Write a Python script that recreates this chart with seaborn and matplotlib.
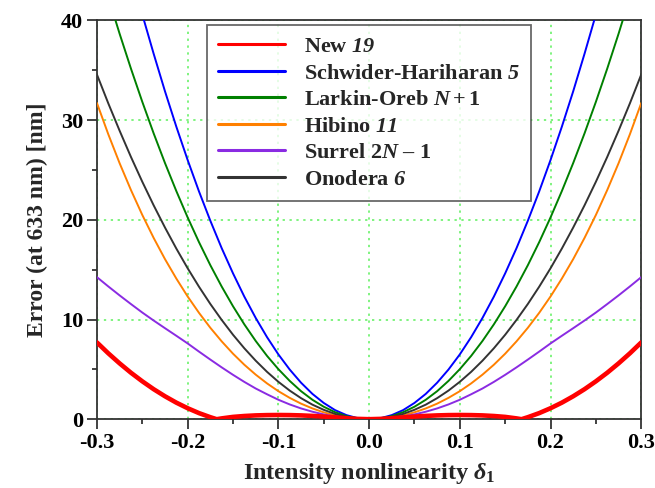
import matplotlib
matplotlib.use('Agg')

import numpy as np
import pandas as pd
import matplotlib.pyplot as plt
import seaborn as sns

# values, right half only (curves are symmetric about 0)
x_half = [0.0, 0.0125, 0.025, 0.0375, 0.05, 0.0625, 0.075, 0.0875, 0.1, 0.1125, 0.125, 0.1375,
          0.15, 0.1625, 0.175, 0.1875, 0.2, 0.2125, 0.225, 0.2375, 0.25, 0.2625, 0.275, 0.2875, 0.3]
schwider = [0.0, 0.10, 0.41, 0.91, 1.63, 2.54, 3.66, 4.98, 6.5, 8.23, 10.16, 12.29,
            14.63, 17.16, 19.91, 22.85, 26.0, 29.35, 32.9, 36.67, 40.6, 44.8, 49.2, 53.7, 58.5]
larkin = [0.0, 0.08, 0.31, 0.70, 1.25, 1.95, 2.81, 3.84, 5.02, 6.35, 7.85, 9.51,
          11.33, 13.31, 15.45, 17.76, 20.24, 22.89, 25.7, 28.68, 31.84, 35.17, 38.67, 42.35, 46.2]
hibino = [0.0, 0.04, 0.17, 0.38, 0.69, 1.08, 1.56, 2.14, 2.81, 3.59, 4.47, 5.46,
          6.57, 7.81, 9.17, 10.67, 12.31, 14.11, 16.06, 18.19, 20.49, 22.99, 25.68, 28.59, 31.72]
surrel = [0.0, 0.03, 0.12, 0.27, 0.48, 0.75, 1.08, 1.48, 1.95, 2.5, 3.08, 3.74,
          4.45, 5.2, 5.98, 6.78, 7.6, 8.37, 9.13, 9.9, 10.7, 11.55, 12.42, 13.32, 14.25]
onodera = [0.0, 0.06, 0.23, 0.53, 0.94, 1.46, 2.11, 2.87, 3.75, 4.75, 5.87, 7.11,
           8.47, 9.96, 11.56, 13.29, 15.14, 17.12, 19.23, 21.46, 23.82, 26.31, 28.94, 31.69, 34.58]

# the new algorithm has its own sample points (it touches zero near +-0.168)
x_new_half = [0.0, 0.0125, 0.025, 0.0375, 0.05, 0.0625, 0.075, 0.0875, 0.1, 0.1125, 0.125, 0.1375,
              0.15, 0.1625, 0.168, 0.175, 0.1875, 0.2, 0.2125, 0.225, 0.2375, 0.25, 0.2625,
              0.275, 0.2875, 0.3]
new19 = [0.0, 0.03, 0.1, 0.18, 0.26, 0.33, 0.38, 0.41, 0.42, 0.41, 0.38, 0.32,
         0.23, 0.08, 0.0, 0.2, 0.61, 1.1, 1.66, 2.3, 3.01, 3.8, 4.66, 5.6, 6.61, 7.7]

labels = ['New $\\mathsf{19}$', 'Schwider-Hariharan $\\mathsf{5}$', 'Larkin-Oreb $N + 1$',
          'Hibino $\\mathsf{11}$', 'Surrel 2$N$ \u2013 1', 'Onodera $\\mathsf{6}$']
colors = ['#ff0000', '#0000ff', '#008000', '#ff8000', '#8a2be2', '#333333']


def mirror(xs, ys):
    # full curve from the right half
    xf = [-v for v in xs[::-1]] + xs[1:]
    yf = ys[::-1] + ys[1:]
    return xf, yf


sns.set_style('ticks')
plt.rcParams['font.family'] = ['Liberation Serif', 'DejaVu Serif']
plt.rcParams['font.weight'] = 'bold'
plt.rcParams['axes.labelweight'] = 'bold'
plt.rcParams['mathtext.fontset'] = 'custom'
plt.rcParams['mathtext.rm'] = 'Liberation Serif:bold'
plt.rcParams['mathtext.it'] = 'Liberation Serif:bold:italic'
plt.rcParams['mathtext.bf'] = 'Liberation Serif:bold'
plt.rcParams['mathtext.sf'] = 'Liberation Serif:bold:italic'  # italic digits

fig = plt.figure(figsize=(6.55, 4.88), dpi=100)
ax = fig.add_axes([0.148, 0.141, 0.831, 0.817])

series = [(x_new_half, new19), (x_half, schwider), (x_half, larkin),
          (x_half, hibino), (x_half, surrel), (x_half, onodera)]
widths = [3.3, 1.4, 1.4, 1.4, 1.4, 1.4]
zorders = [5, 3, 3, 3, 3, 3]

for (xs, ys), lab, c, lw, z in zip(series, labels, colors, widths, zorders):
    xf, yf = mirror(xs, ys)
    df = pd.DataFrame({'x': xf, 'y': yf})
    sns.lineplot(data=df, x='x', y='y', ax=ax, color=c, lw=lw, label=lab,
                 zorder=z, sort=False)

ax.set_xlim(-0.3, 0.3)
ax.set_ylim(0, 40)
ax.set_xticks([-0.3, -0.2, -0.1, 0.0, 0.1, 0.2, 0.3])
ax.set_xticks(np.arange(-0.25, 0.3, 0.1), minor=True)
ax.set_yticks([0, 10, 20, 30, 40])
ax.set_yticks([5, 15, 25, 35], minor=True)
ax.set_xticklabels(['-0.3', '-0.2', '-0.1', '0.0', '0.1', '0.2', '0.3'])
ax.tick_params(axis='both', which='major', labelsize=16, length=7, width=1.2,
               direction='out', colors='#222222', pad=3)
ax.tick_params(axis='both', which='minor', length=3.5, width=1.2, direction='out',
               colors='#222222')
for lbl in ax.get_xticklabels() + ax.get_yticklabels():
    lbl.set_fontweight('bold')
    lbl.set_color('black')

ax.grid(True, which='major', color='#5cf05c', linestyle=(0, (1.5, 3)), lw=1.1)
for s in ax.spines.values():
    s.set_visible(True)
    s.set_color('#333333')
    s.set_linewidth(1.3)

ax.set_xlabel('Intensity nonlinearity $\\delta_1$', fontsize=17.5, labelpad=6)
ax.set_ylabel('Error (at 633 nm) [nm]', fontsize=17, labelpad=9)

leg = ax.legend(loc='upper left', bbox_to_anchor=(0.202, 0.988), fontsize=16,
                frameon=True, fancybox=False, edgecolor='#444444',
                handlelength=3.0, handletextpad=0.85, labelspacing=0.27,
                borderpad=0.5, borderaxespad=0)
leg.get_frame().set_linewidth(1.3)
for line in leg.get_lines():
    line.set_linewidth(2.2)

fig.savefig('out.png', dpi=100)
